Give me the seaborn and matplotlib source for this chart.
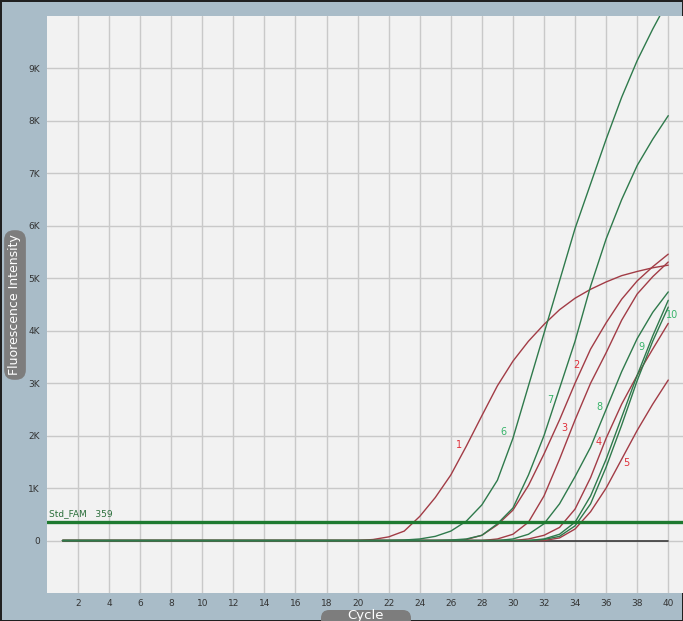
import seaborn as sns
import pandas as pd
import matplotlib
matplotlib.use("Agg")
import matplotlib.pyplot as plt
from matplotlib.patches import FancyBboxPatch

# amplification data (RFU per cycle)
cycles = list(range(1, 41))
wells = ["1", "2", "3", "4", "5", "6", "7", "8", "9", "10"]
rfu_1 = [0, 0, 0, 0, 0, 0, 0, 0, 0, 0, 0, 0, 0, 0, 0, 0, 0, 0, 0, 0,
         20, 70, 180, 460, 820, 1250, 1800, 2380, 2950, 3420,
         3800, 4120, 4400, 4620, 4790, 4930, 5050, 5130, 5200, 5250]
rfu_2 = [0, 0, 0, 0, 0, 0, 0, 0, 0, 0, 0, 0, 0, 0, 0, 0, 0, 0, 0, 0,
         0, 0, 0, 0, 0, 0, 20, 100, 300, 580,
         1050, 1650, 2300, 3000, 3650, 4150, 4600, 4950, 5220, 5460]
rfu_3 = [0, 0, 0, 0, 0, 0, 0, 0, 0, 0, 0, 0, 0, 0, 0, 0, 0, 0, 0, 0,
         0, 0, 0, 0, 0, 0, 0, 0, 30, 120,
         350, 850, 1550, 2300, 3000, 3580, 4200, 4700, 5030, 5310]
rfu_4 = [0, 0, 0, 0, 0, 0, 0, 0, 0, 0, 0, 0, 0, 0, 0, 0, 0, 0, 0, 0,
         0, 0, 0, 0, 0, 0, 0, 0, 0, 0,
         30, 100, 250, 600, 1200, 1950, 2600, 3150, 3650, 4140]
rfu_5 = [0, 0, 0, 0, 0, 0, 0, 0, 0, 0, 0, 0, 0, 0, 0, 0, 0, 0, 0, 0,
         0, 0, 0, 0, 0, 0, 0, 0, 0, 0,
         0, 0, 50, 220, 550, 1000, 1550, 2100, 2600, 3060]
rfu_6 = [0, 0, 0, 0, 0, 0, 0, 0, 0, 0, 0, 0, 0, 0, 0, 0, 0, 0, 0, 0,
         0, 0, 10, 30, 80, 180, 370, 680, 1150, 1950,
         2950, 3950, 4950, 5950, 6800, 7650, 8450, 9150, 9750, 10300]
rfu_7 = [0, 0, 0, 0, 0, 0, 0, 0, 0, 0, 0, 0, 0, 0, 0, 0, 0, 0, 0, 0,
         0, 0, 0, 0, 0, 10, 30, 100, 320, 620,
         1250, 2000, 2900, 3800, 4850, 5750, 6500, 7150, 7650, 8100]
rfu_8 = [0, 0, 0, 0, 0, 0, 0, 0, 0, 0, 0, 0, 0, 0, 0, 0, 0, 0, 0, 0,
         0, 0, 0, 0, 0, 0, 0, 0, 0, 30,
         120, 320, 700, 1220, 1780, 2500, 3220, 3850, 4350, 4740]
rfu_9 = [0, 0, 0, 0, 0, 0, 0, 0, 0, 0, 0, 0, 0, 0, 0, 0, 0, 0, 0, 0,
         0, 0, 0, 0, 0, 0, 0, 0, 0, 0,
         0, 30, 120, 350, 850, 1550, 2350, 3150, 3900, 4580]
rfu_10 = [0, 0, 0, 0, 0, 0, 0, 0, 0, 0, 0, 0, 0, 0, 0, 0, 0, 0, 0, 0,
          0, 0, 0, 0, 0, 0, 0, 0, 0, 0,
          0, 20, 80, 280, 700, 1400, 2200, 3050, 3800, 4450]
rfu_ntc = [0] * 40
threshold = 359
threshold_name = "Std_FAM"

y_ticks = [0, 1000, 2000, 3000, 4000, 5000, 6000, 7000, 8000, 9000]
y_tick_labels = ["0", "1K", "2K", "3K", "4K", "5K", "6K", "7K", "8K", "9K"]
x_ticks = list(range(2, 41, 2))

all_rfu = [rfu_1, rfu_2, rfu_3, rfu_4, rfu_5, rfu_6, rfu_7, rfu_8, rfu_9, rfu_10]
df = pd.DataFrame({
    "cycle": cycles * len(wells),
    "rfu": sum(all_rfu, []),
    "well": [w for w in wells for _ in cycles],
})
ntc = pd.DataFrame({"cycle": cycles, "rfu": rfu_ntc})

line_red = "#a23c46"
line_green = "#2f7a4c"
palette = {w: (line_red if i < 5 else line_green) for i, w in enumerate(wells)}
label_colors = {w: ("#e0303a" if i < 5 else "#37b36a") for i, w in enumerate(wells)}
# where the well numbers sit (cycle, rfu)
label_pos = [(26.5, 1820), (34.1, 3340), (33.3, 2150), (35.5, 1880), (37.3, 1480),
             (29.4, 2070), (32.4, 2680), (35.6, 2550), (38.3, 3690), (40.25, 4300)]

sns.set_theme(style="white")
plt.rcParams["font.family"] = ["DejaVu Sans"]

fig = plt.figure(figsize=(6.83, 6.21), dpi=100)
fig.patch.set_facecolor("#a9bcc8")
fig.patch.set_edgecolor("#202020")
fig.patch.set_linewidth(2)
ax = fig.add_axes([47 / 683, 28 / 621, 636 / 683, 577 / 621])
ax.set_facecolor("#f2f2f2")

sns.lineplot(data=ntc, x="cycle", y="rfu", color="#3a3a3a", linewidth=1.2, ax=ax)
sns.lineplot(data=df, x="cycle", y="rfu", hue="well", palette=palette,
             linewidth=1.0, legend=False, ax=ax)
ax.axhline(threshold, color="#1e7a30", linewidth=2.4, zorder=3)
ax.text(0.15, threshold + 70, f"{threshold_name}   {threshold}", color="#2a6e3a",
        fontsize=6.5, ha="left", va="bottom")

for w, (cx, cy) in zip(wells, label_pos):
    ax.text(cx, cy, w, color=label_colors[w], fontsize=7, ha="center", va="center")

ax.set_xlim(0, 40.95)
ax.set_ylim(-1000, 10000)
ax.set_xticks(x_ticks)
ax.set_xticklabels([str(t) for t in x_ticks])
ax.set_yticks(y_ticks)
ax.set_yticklabels(y_tick_labels)
ax.grid(True, color="#c9c9c9", linewidth=1)
ax.set_axisbelow(True)
for s in ax.spines.values():
    s.set_visible(False)
ax.tick_params(axis="both", direction="out", length=3, width=0.8, color="#444444",
               labelcolor="#333333", labelsize=6.5, pad=2)
ax.tick_params(axis="x", pad=1.5)
ax.set_xlabel("")
ax.set_ylabel("")

fig.text(15 / 683, 1 - 305 / 621, "Fluorescence Intensity", rotation=90,
         color="white", fontsize=9, ha="center", va="center",
         bbox=dict(boxstyle="round,pad=0.35,rounding_size=0.8", fc="#7d7d7d", ec="none"))

# rounded tab under the x axis holding the axis title
tab = FancyBboxPatch((321 / 683, -12 / 621), 90 / 683, 23 / 621,
                     boxstyle="round,pad=0,rounding_size=0.012",
                     mutation_aspect=683 / 621,
                     transform=fig.transFigure, fc="#7d7d7d", ec="none")
fig.patches.append(tab)
fig.text(366 / 683, 1 - 615.5 / 621, "Cycle", color="white", fontsize=9.5,
         ha="center", va="center")

fig.savefig("out.png", dpi=100, facecolor=fig.get_facecolor(), edgecolor=fig.get_edgecolor())
